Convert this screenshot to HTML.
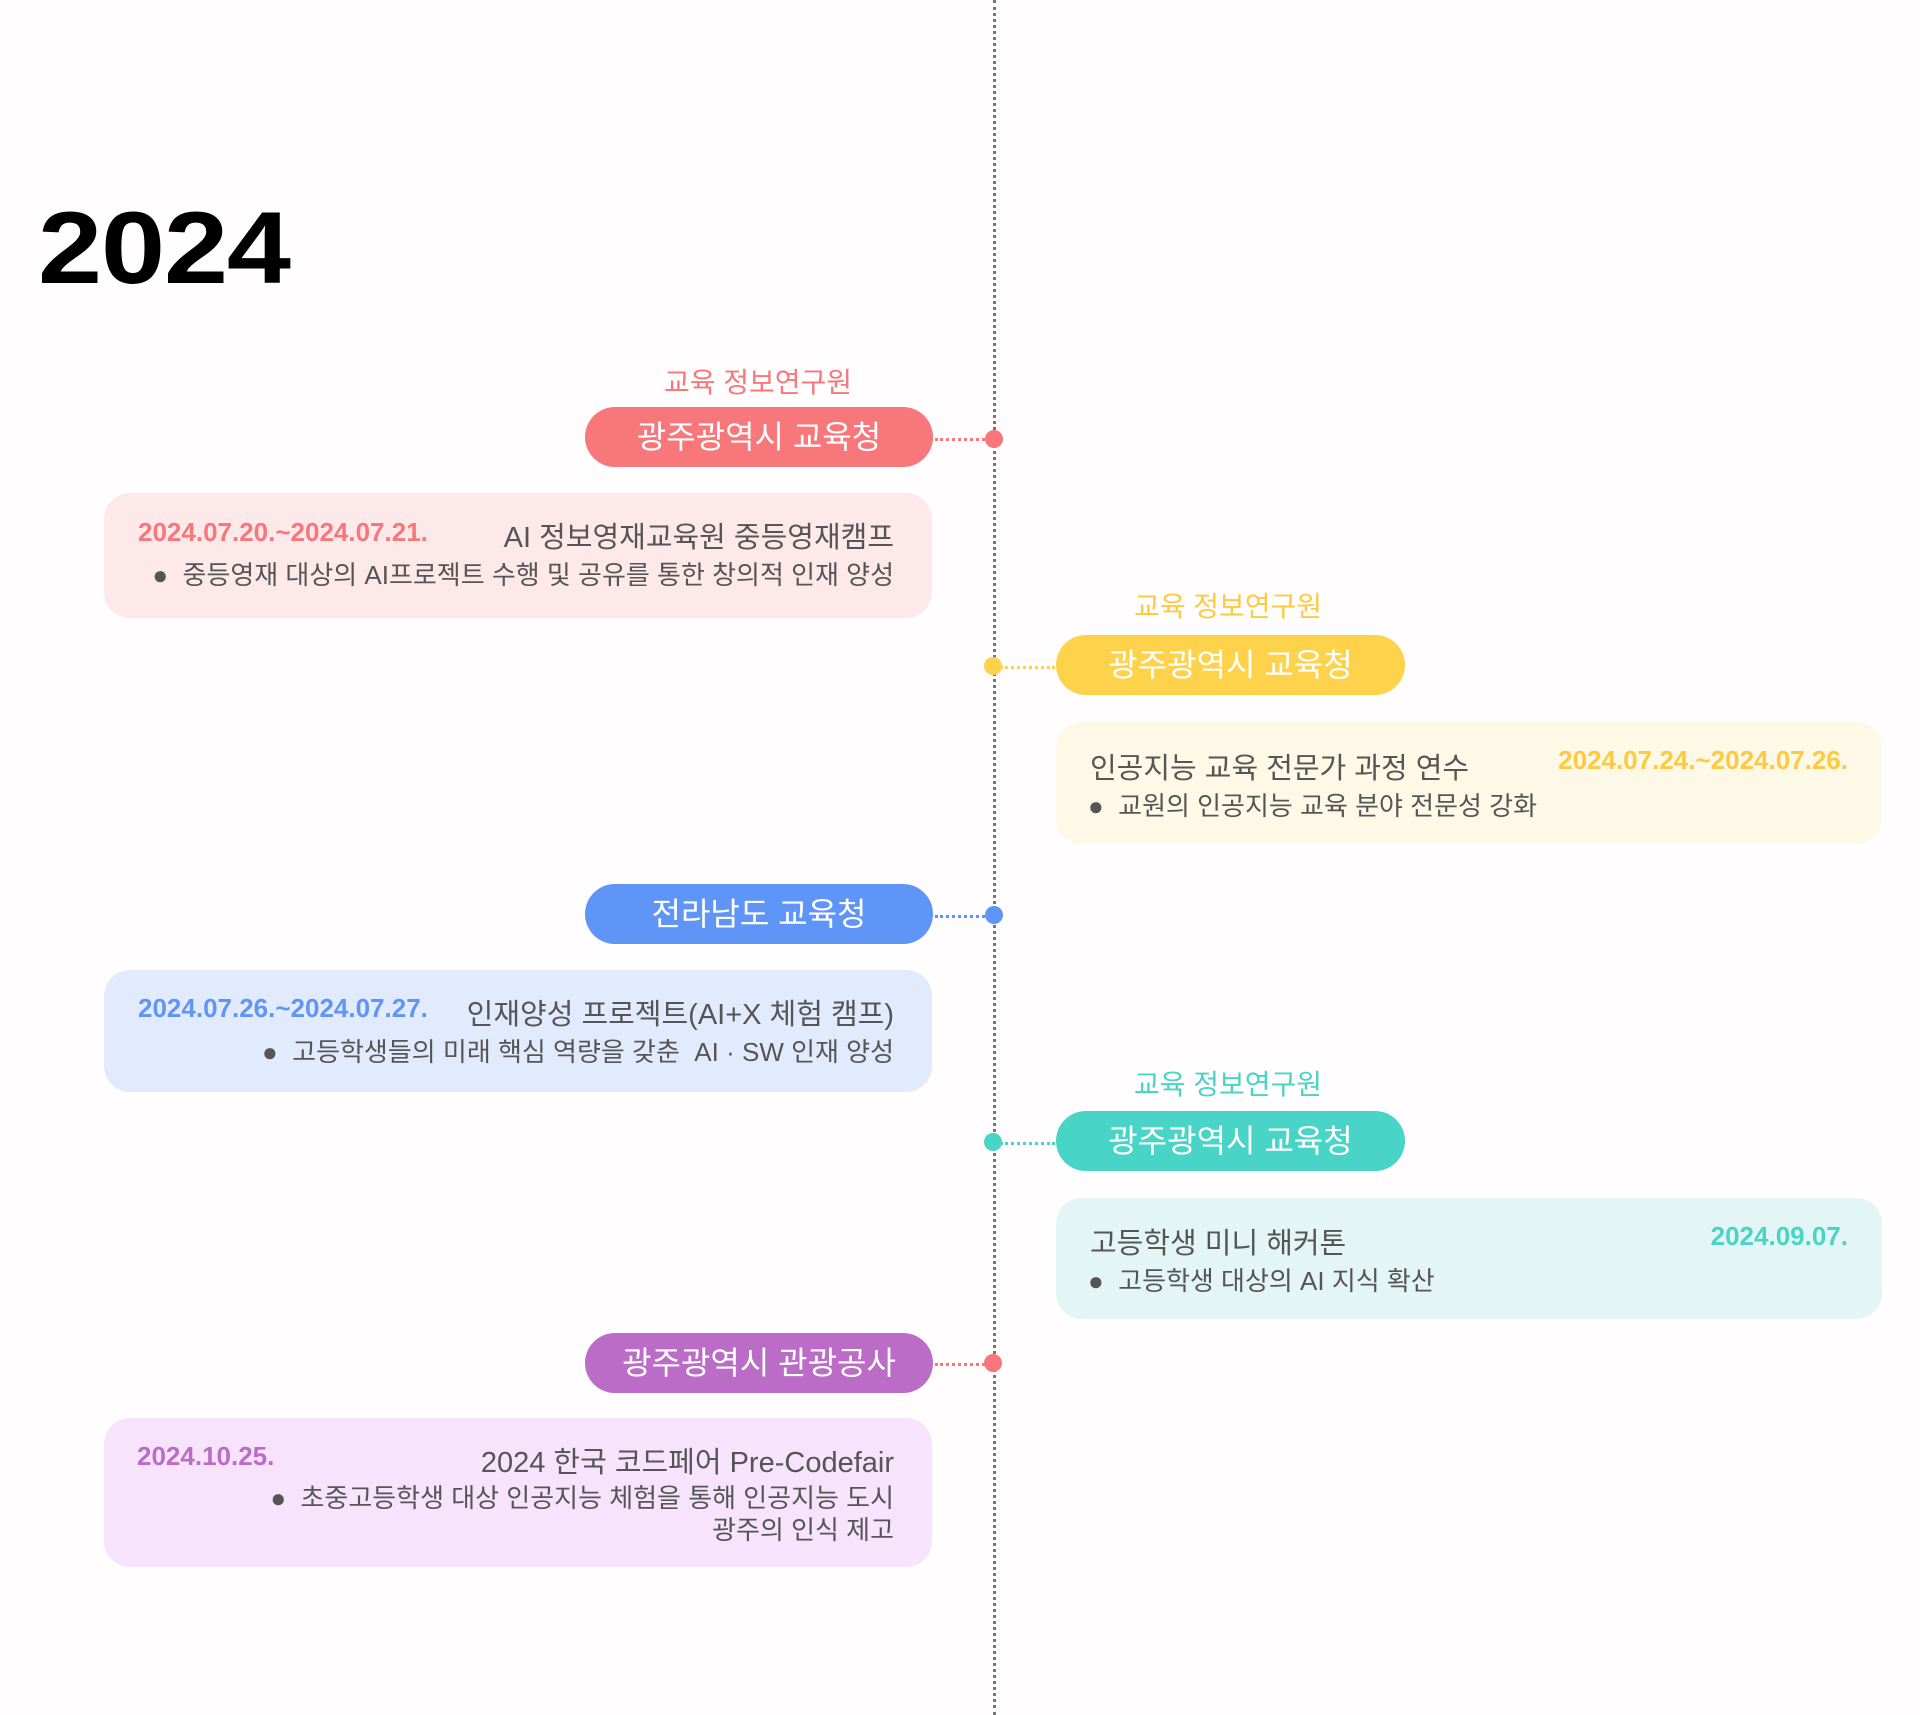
<!DOCTYPE html>
<html><head><meta charset="utf-8"><style>
body{margin:0;width:1920px;height:1715px;background:#fffdfd;position:relative;overflow:hidden;font-family:"Liberation Sans","Noto Sans CJK KR",sans-serif;color:#555}
.a{position:absolute}
.vl{left:993px;top:0;height:1715px;border-left:3px dotted #777}
.year{left:38px;top:190px;font-size:102px;font-weight:bold;color:#000;letter-spacing:-1px;transform:scaleX(1.13);transform-origin:left top}
.lab{font-size:28px;text-align:center;width:320px}
.pill{height:60px;border-radius:30px;color:#fff;font-size:32px;line-height:60px;text-align:center}
.dot{width:18px;height:18px;border-radius:50%}
.con{height:0;border-top:3px dotted}
.card{border-radius:26px}
.date{font-size:26px;font-weight:bold;letter-spacing:0px}
.ttl{font-size:29px;color:#555;white-space:nowrap}
.bul{font-size:26px;color:#555;white-space:nowrap}
</style></head><body>
<div class="a vl"></div>
<div class="a year">2024</div>

<!-- 1 pink -->
<div class="a lab" style="left:598px;top:361px;color:#f7777a">교육 정보연구원</div>
<div class="a pill" style="left:585px;top:407px;width:348px;background:#f7777a">광주광역시 교육청</div>
<div class="a con" style="left:935px;top:438px;width:55px;border-color:#f7777a"></div>
<div class="a dot" style="left:985px;top:430px;background:#f7777a"></div>
<div class="a card" style="left:104px;top:493px;width:828px;height:125px;background:#fde8ea"></div>
<div class="a date" style="left:138px;top:517px;color:#f7777a">2024.07.20.~2024.07.21.</div>
<div class="a ttl" style="right:1026px;top:514px">AI 정보영재교육원 중등영재캠프</div>
<div class="a bul" style="right:1026px;top:555px">●&nbsp; 중등영재 대상의 AI프로젝트 수행 및 공유를 통한 창의적 인재 양성</div>

<!-- 2 yellow -->
<div class="a lab" style="left:1068px;top:585px;color:#ffc940">교육 정보연구원</div>
<div class="a pill" style="left:1056px;top:635px;width:349px;background:#ffd24c">광주광역시 교육청</div>
<div class="a con" style="left:1000px;top:666px;width:55px;border-color:#ffd24c"></div>
<div class="a dot" style="left:984px;top:657px;background:#ffd24c"></div>
<div class="a card" style="left:1056px;top:722px;width:826px;height:122px;background:#fef8e6"></div>
<div class="a ttl" style="left:1090px;top:745px">인공지능 교육 전문가 과정 연수</div>
<div class="a date" style="right:72px;top:745px;color:#ffc940">2024.07.24.~2024.07.26.</div>
<div class="a bul" style="left:1088px;top:786px">●&nbsp; 교원의 인공지능 교육 분야 전문성 강화</div>

<!-- 3 blue -->
<div class="a pill" style="left:585px;top:884px;width:348px;background:#5f95f7">전라남도 교육청</div>
<div class="a con" style="left:935px;top:915px;width:55px;border-color:#5f95f7"></div>
<div class="a dot" style="left:985px;top:906px;background:#5f95f7"></div>
<div class="a card" style="left:104px;top:970px;width:828px;height:122px;background:#e2ebfd"></div>
<div class="a date" style="left:138px;top:993px;color:#5f95f7">2024.07.26.~2024.07.27.</div>
<div class="a ttl" style="right:1026px;top:991px">인재양성 프로젝트(AI+X 체험 캠프)</div>
<div class="a bul" style="right:1026px;top:1032px">●&nbsp; 고등학생들의 미래 핵심 역량을 갖춘 &nbsp;AI · SW 인재 양성</div>

<!-- 4 teal -->
<div class="a lab" style="left:1068px;top:1063px;color:#48d4c6">교육 정보연구원</div>
<div class="a pill" style="left:1056px;top:1111px;width:349px;background:#48d4c6">광주광역시 교육청</div>
<div class="a con" style="left:1000px;top:1142px;width:55px;border-color:#48d4c6"></div>
<div class="a dot" style="left:984px;top:1133px;background:#48d4c6"></div>
<div class="a card" style="left:1056px;top:1198px;width:826px;height:121px;background:#e3f6f5"></div>
<div class="a ttl" style="left:1090px;top:1220px">고등학생 미니 해커톤</div>
<div class="a date" style="right:72px;top:1221px;color:#48d4c6">2024.09.07.</div>
<div class="a bul" style="left:1088px;top:1261px">●&nbsp; 고등학생 대상의 AI 지식 확산</div>

<!-- 5 purple -->
<div class="a pill" style="left:585px;top:1333px;width:348px;background:#ba6cc6">광주광역시 관광공사</div>
<div class="a con" style="left:935px;top:1363px;width:55px;border-color:#f7777a"></div>
<div class="a dot" style="left:984px;top:1354px;background:#f7777a"></div>
<div class="a card" style="left:104px;top:1418px;width:828px;height:149px;background:#f7e3fb"></div>
<div class="a date" style="left:137px;top:1441px;color:#ba6cc6">2024.10.25.</div>
<div class="a ttl" style="right:1026px;top:1439px">2024 한국 코드페어 Pre-Codefair</div>
<div class="a bul" style="right:1026px;top:1482px;text-align:right;line-height:32px">●&nbsp; 초중고등학생 대상 인공지능 체험을 통해 인공지능 도시<br>광주의 인식 제고</div>
</body></html>
